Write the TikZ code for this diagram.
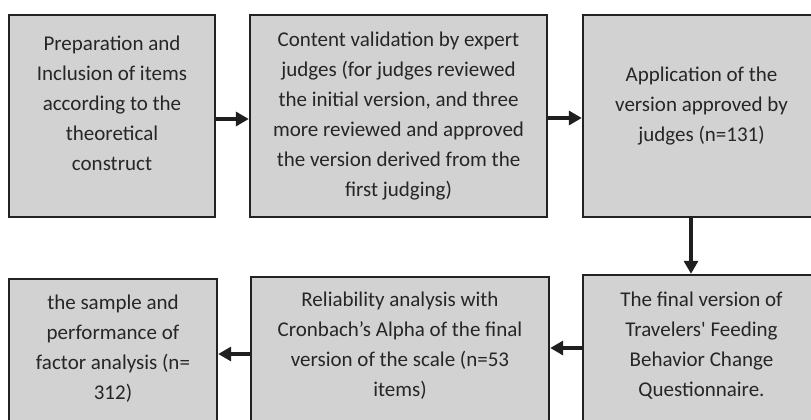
\documentclass[tikz,border=0pt]{standalone}
\usepackage{fontspec}
\setmainfont{Carlito}
\usetikzlibrary{arrows.meta}
\definecolor{boxfill}{HTML}{D2D2D2}
\definecolor{boxline}{HTML}{222222}
\definecolor{txt}{HTML}{262626}
\begin{document}
\begin{tikzpicture}[x=1pt,y=-1pt,
  stagebox/.style={draw=boxline,line width=2.4pt,fill=boxfill,inner sep=0pt,minimum width=#1},
  lbl/.style={align=center,inner sep=0pt,anchor=north,text=txt,font=\fontsize{21}{30}\selectfont},
  flow/.style={draw=boxline!90!black,line width=3.6pt,-{Triangle[length=13pt,width=14pt]}}]
\useasboundingbox (0,0) rectangle (811,420);
\path[fill=white] (0,0) rectangle (811,420);
% boxes
\node[stagebox=206pt,minimum height=202pt] (b1) at (112,116) {};
\node[stagebox=297pt,minimum height=202pt] (b2) at (398.5,116) {};
\node[stagebox=232pt,minimum height=202pt] (b3) at (699,116) {};
\node[stagebox=232pt,minimum height=150pt] (b6) at (699,350) {};
\node[stagebox=298pt,minimum height=148pt] (b5) at (400,351) {};
\node[stagebox=208pt,minimum height=146pt] (b4) at (113,352) {};
% texts
\node[lbl] (t1) at (112,35.5) {Preparation and\\Inclusion of items\\according to the\\theoretical\\construct};
\node[lbl] (t2) at (398.5,31.7) {Content validation by expert\\judges (for judges reviewed\\the initial version, and three\\more reviewed and approved\\the version derived from the\\first judging)};
\node[lbl] (t3) at (701.5,66.7) {Application of the\\version approved by\\judges (n=131)};
\node[lbl] (t6) at (701.5,291.7) {The final version of\\Travelers\textquotesingle{} Feeding\\Behavior Change\\Questionnaire.};
\node[lbl] (t5) at (400,291.7) {Reliability analysis with\\Cronbach’s Alpha of the final\\version of the scale (n=53\\items)};
\node[lbl] (t4) at (113,294.3) {the sample and\\performance of\\factor analysis (n=\\312)};
% connectors
\draw[flow] ([yshift=-3pt]b1.east) -- ([yshift=-3pt]b2.west);
\draw[flow] ([yshift=-2pt]b2.east) -- ([yshift=-2pt]b3.west);
\draw[flow] ([xshift=-8pt]b3.south) -- ([xshift=-8pt]b6.north);
\draw[flow] ([yshift=2pt]b6.west) -- ([yshift=2pt]b6.west -| b5.east);
\draw[flow] ([yshift=-3pt]b5.west) -- ([yshift=-3pt]b5.west -| b4.east);
\end{tikzpicture}
\end{document}
